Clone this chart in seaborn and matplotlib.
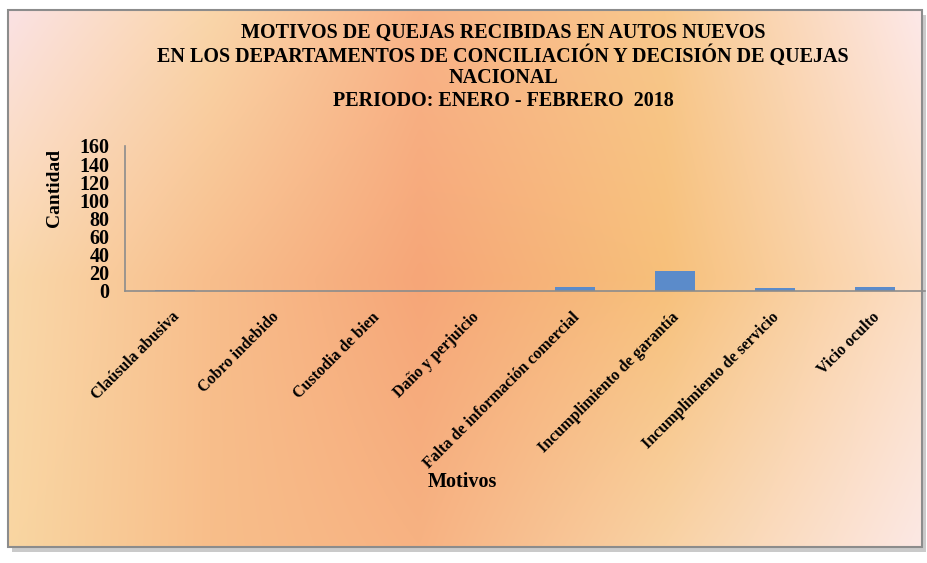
import numpy as np
import pandas as pd
import seaborn as sns
import matplotlib.pyplot as plt
from matplotlib.patches import Rectangle
from matplotlib.transforms import ScaledTranslation

# ---------------------------------------------------- data ----------------------------------------------------
motivos = ['Claúsula abusiva', 'Cobro indebido', 'Custodia de bien', 'Daño y perjuicio',
           'Falta de información comercial', 'Incumplimiento de garantía',
           'Incumplimiento de servicio', 'Vicio oculto']
cantidad = [1, 0, 0, 0, 4, 22, 3, 4]
y_ticks = [0, 20, 40, 60, 80, 100, 120, 140, 160]
title_lines = ['MOTIVOS DE QUEJAS RECIBIDAS EN AUTOS NUEVOS',
               'EN LOS DEPARTAMENTOS DE CONCILIACIÓN Y DECISIÓN DE QUEJAS',
               'NACIONAL',
               'PERIODO: ENERO - FEBRERO  2018']

df = pd.DataFrame({'Motivos': motivos, 'Cantidad': cantidad})

sns.set_style('white')
plt.rcParams['font.family'] = ['Liberation Serif', 'DejaVu Serif']
plt.rcParams['font.weight'] = 'bold'
plt.rcParams['text.color'] = 'black'
plt.rcParams['xtick.color'] = 'black'
plt.rcParams['ytick.color'] = 'black'

W, H = 928, 563
fig = plt.figure(figsize=(W / 100, H / 100), dpi=100)
fig.patch.set_facecolor('white')


def fx(px):
    return px / W


def fy(py):
    return 1 - py / H


# ---------------------------------------------------- background gradient ----------------------------------------------------
x0, x1, y0, y1 = 8, 922, 10, 547
ctrl_x = [0.0, 0.22, 0.45, 0.72, 1.0]
ctrl_y = [0.0, 0.5, 1.0]
ctrl = np.array([
    [[251, 226, 228], [250, 214, 170], [249, 180, 136], [248, 200, 140], [253, 232, 232]],
    [[250, 216, 170], [248, 190, 140], [246, 166, 120], [247, 192, 122], [252, 222, 196]],
    [[249, 214, 162], [248, 190, 138], [247, 178, 130], [249, 210, 164], [252, 232, 228]],
]) / 255.0
nx, ny = 300, 180
gx = np.linspace(0, 1, nx)
gy = np.linspace(0, 1, ny)
rows = np.stack([np.stack([np.interp(gx, ctrl_x, ctrl[r, :, c]) for c in range(3)], -1)
                 for r in range(3)])
img = np.stack([np.stack([np.interp(gy, ctrl_y, rows[:, i, c]) for c in range(3)], -1)
                for i in range(nx)], 1)

bg = fig.add_axes([fx(x0), fy(y1), fx(x1 - x0), (y1 - y0) / H], zorder=0)
bg.imshow(img, aspect='auto', interpolation='bilinear', extent=[0, 1, 0, 1], origin='upper')
bg.axis('off')
# shadow + border
fig.patches.append(Rectangle((fx(x0 + 4), fy(y1 + 5)), fx(x1 - x0), (y1 - y0) / H,
                             transform=fig.transFigure, facecolor='#a8a8a8', edgecolor='none',
                             alpha=0.6, zorder=-1))
fig.patches.append(Rectangle((fx(x0), fy(y1)), fx(x1 - x0), (y1 - y0) / H,
                             transform=fig.transFigure, facecolor='none', edgecolor='#8c8c8c',
                             linewidth=1.5, zorder=5))

# ---------------------------------------------------- bar chart ----------------------------------------------------
ax = fig.add_axes([fx(125), fy(291), fx(800), 145 / H], zorder=2)
ax.patch.set_alpha(0)
sns.barplot(data=df, x='Motivos', y='Cantidad', ax=ax, color='#5b8bca', width=0.4,
            saturation=1, edgecolor='none')
ax.set_xlim(-0.5, len(motivos) - 0.5)
ax.set_ylim(0, 160)
ax.set_yticks(y_ticks)
ax.set_yticklabels([str(v) for v in y_ticks], fontsize=14.5, fontweight='bold')

ax.set_xticks(np.arange(-0.5, len(motivos)), labels=[])
ax.set_xticks(np.arange(len(motivos)), labels=motivos, minor=True)
ax.tick_params(axis='x', which='major', length=4, width=1, color='#8c8c8c', direction='out')
ax.tick_params(axis='x', which='minor', length=0)
ax.tick_params(axis='y', length=5, width=1, color='#8c8c8c', direction='out', pad=6)
shift = ScaledTranslation(2 / 100, -19 / 100, fig.dpi_scale_trans)
for lab in ax.get_xticklabels(minor=True):
    lab.set_rotation(45)
    lab.set_ha('right')
    lab.set_va('center')
    lab.set_rotation_mode('anchor')
    lab.set_fontsize(11.5)
    lab.set_fontweight('bold')
    lab.set_transform(lab.get_transform() + shift)

for side in ['top', 'right']:
    ax.spines[side].set_visible(False)
for side in ['left', 'bottom']:
    ax.spines[side].set_color('#8c8c8c')
    ax.spines[side].set_linewidth(1.2)
ax.set_xlabel('')
ax.set_ylabel('')

fig.text(fx(55), fy(188), 'Cantidad', rotation=90, ha='center', va='center',
         fontsize=14, fontweight='bold')
fig.text(fx(462), fy(482), 'Motivos', ha='center', va='center', fontsize=14.5, fontweight='bold')
for i, line in enumerate(title_lines):
    fig.text(fx(503), fy(33 + i * 22.7), line, ha='center', va='center',
             fontsize=14.5, fontweight='bold')

fig.savefig('out.png', dpi=100)
